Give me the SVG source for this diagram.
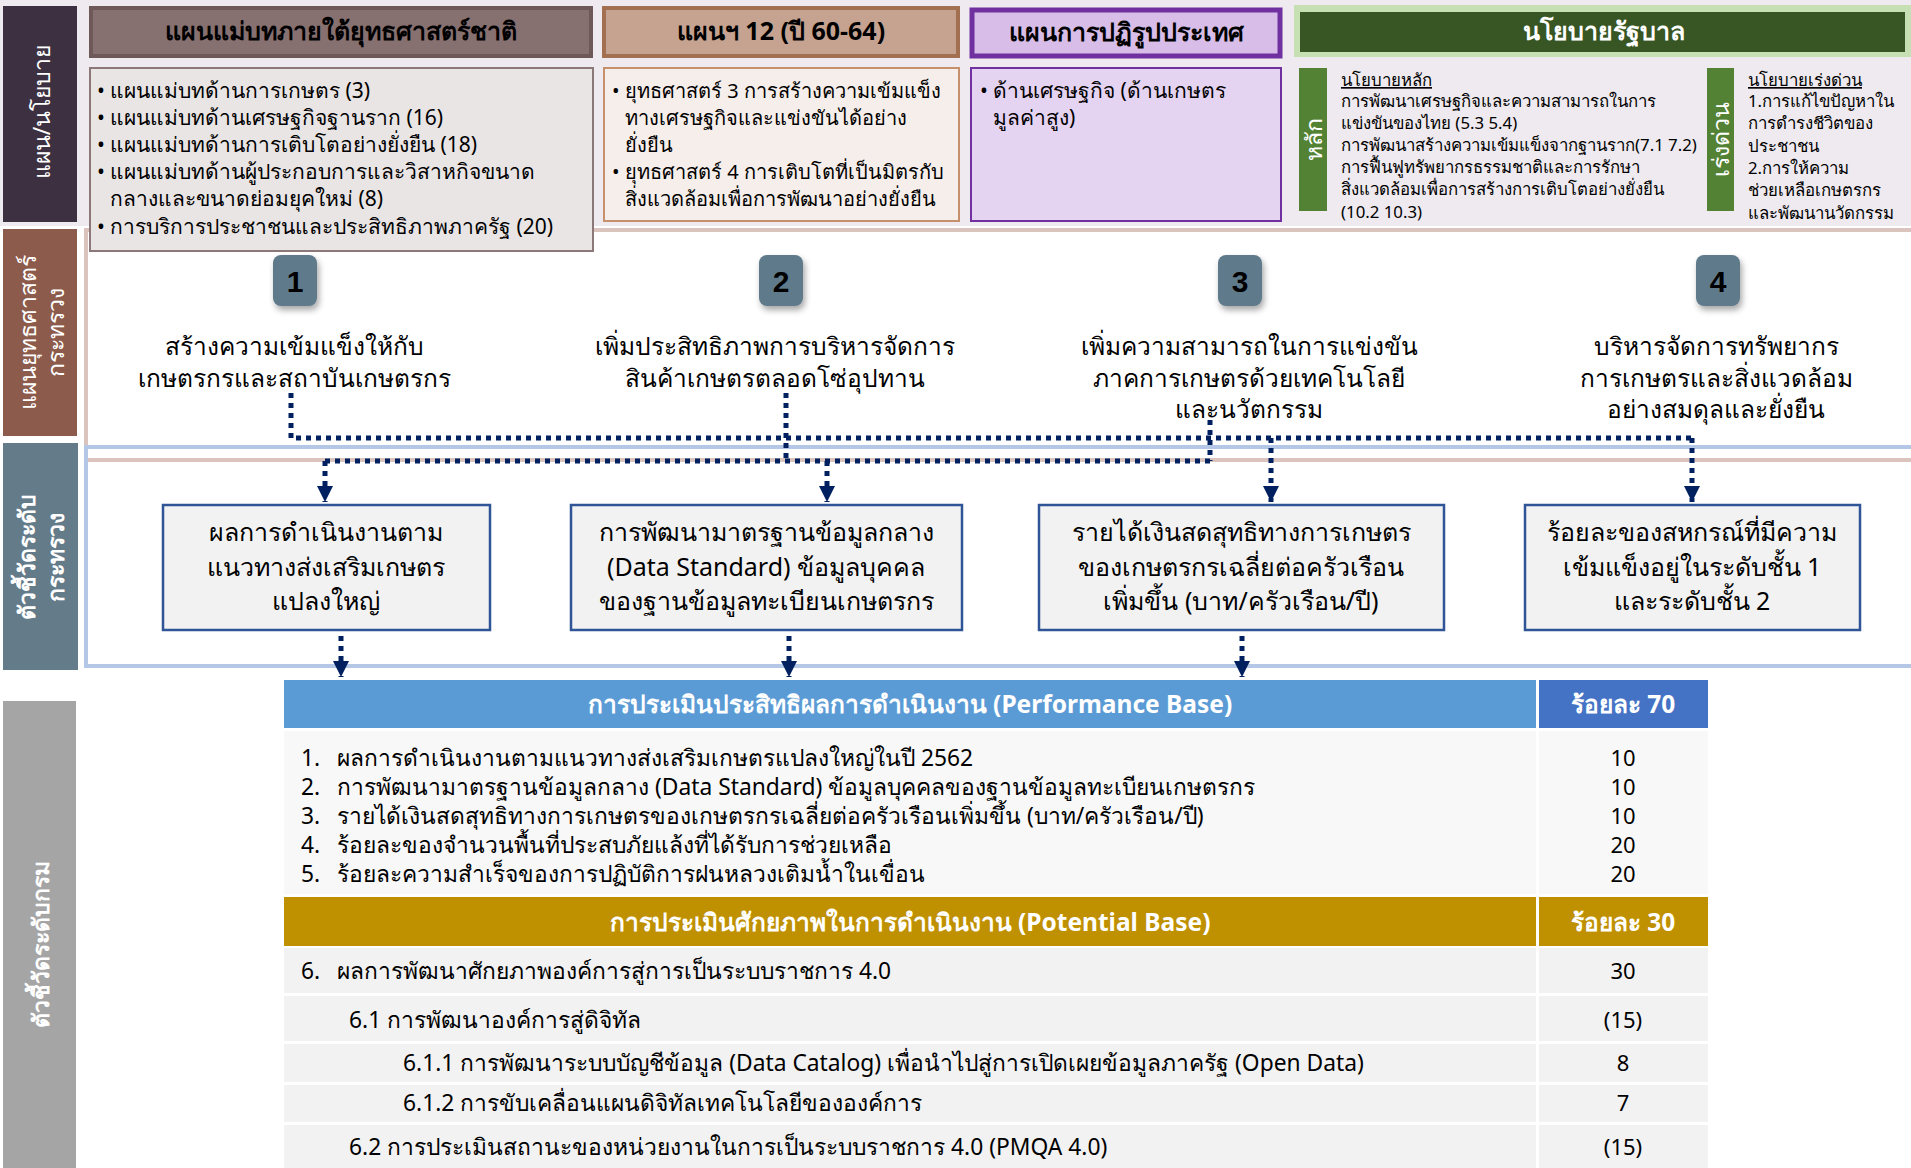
<svg xmlns="http://www.w3.org/2000/svg" width="1911" height="1168" viewBox="0 0 1911 1168">
<style>
text{font-family:"Noto Sans","DejaVu Sans",sans-serif;fill:#000}
.hd{font-size:25px;font-weight:bold;text-anchor:middle}
.bx{font-size:21px}
.bx2{font-size:20px}
.gv{font-size:16.8px}
.st{font-size:24.5px;text-anchor:middle}
.ib{font-size:25px;text-anchor:middle}
.tb{font-size:22.8px}
.tn{font-size:22px;text-anchor:middle}
.th{font-size:24.5px;font-weight:bold;fill:#fff;text-anchor:middle}
.sb{font-size:23px;fill:#fff;text-anchor:middle;dominant-baseline:central}
.bd{font-size:30px;font-weight:bold;text-anchor:middle;font-family:"Liberation Sans",sans-serif}
.dot{fill:none;stroke:#002060;stroke-width:5;stroke-dasharray:5 5}
.ind{fill:#f2f2f2;stroke:#2f5597;stroke-width:2.5}
.badge{fill:#5f7a8a}
</style>
<defs>
<marker id="ah" viewBox="0 0 10 10" refX="10" refY="5" markerWidth="3.2" markerHeight="3.2" orient="auto" markerUnits="strokeWidth">
<path d="M0,0 L10,5 L0,10 z" fill="#002060"/>
</marker>
<filter id="sh" x="-30%" y="-30%" width="160%" height="170%">
<feDropShadow dx="2" dy="4" stdDeviation="3" flood-color="#000" flood-opacity="0.35"/>
</filter>
</defs>

<!-- backgrounds -->
<rect x="0" y="0" width="1911" height="226" fill="#eeeaef"/>
<rect x="86" y="230" width="1840" height="230" fill="none" stroke="#dbc4be" stroke-width="4"/>
<rect x="86" y="447" width="1840" height="219" fill="none" stroke="#b4c7e7" stroke-width="4"/>

<!-- sidebars -->
<g id="side-plan">
<rect x="3" y="6" width="74" height="216" fill="#3d3141"/>
<text class="sb" x="41" y="112" font-size="24" transform="rotate(-90 41 112)">แผน/นโยบาย</text>
</g>
<g id="side-strategy">
<rect x="3" y="229" width="74" height="207" fill="#8c5b4b"/>
<text class="sb" x="27" y="332" transform="rotate(-90 27 332)">แผนยุทธศาสตร์</text>
<text class="sb" x="55" y="332" transform="rotate(-90 55 332)">กระทรวง</text>
</g>
<g id="side-kpi-ministry">
<rect x="3" y="443" width="75" height="227" fill="#647b8a"/>
<text class="sb" x="26" y="557" font-weight="bold" transform="rotate(-90 26 557)">ตัวชี้วัดระดับ</text>
<text class="sb" x="55" y="557" font-weight="bold" transform="rotate(-90 55 557)">กระทรวง</text>
</g>
<g id="side-kpi-dept">
<rect x="3" y="701" width="73" height="467" fill="#a5a5a5"/>
<text class="sb" x="40" y="944" font-weight="bold" transform="rotate(-90 40 944)">ตัวชี้วัดระดับกรม</text>
</g>

<!-- top headers -->
<g id="hdr-masterplan">
<rect x="91" y="8" width="500" height="48" fill="#877070" stroke="#6e5858" stroke-width="4"/>
<text class="hd" x="341" y="40">แผนแม่บทภายใต้ยุทธศาสตร์ชาติ</text>
</g>
<g id="hdr-plan12">
<rect x="604" y="8" width="354" height="48" fill="#c5a390" stroke="#a26f50" stroke-width="4"/>
<text class="hd" x="781" y="40" font-size="26">แผนฯ 12 (ปี 60-64)</text>
</g>
<g id="hdr-reform">
<rect x="972" y="10" width="308" height="46" fill="#d7bde8" stroke="#7030a0" stroke-width="5"/>
<text class="hd" x="1126" y="41">แผนการปฏิรูปประเทศ</text>
</g>
<g id="hdr-gov">
<rect x="1294" y="5" width="617" height="52" fill="#c6e0b4"/>
<rect x="1300" y="12" width="605" height="40" fill="#375623"/>
<text class="hd" x="1604" y="40" style="fill:#fff">นโยบายรัฐบาล</text>
</g>

<!-- content boxes -->
<g id="box-masterplan">
<rect x="90" y="68" width="503" height="183" fill="#e9e5e5" stroke="#8c7878" stroke-width="2"/>
<text class="bx" x="97" y="98">•</text><text class="bx" x="110" y="98">แผนแม่บทด้านการเกษตร (3)</text>
<text class="bx" x="97" y="125">•</text><text class="bx" x="110" y="125">แผนแม่บทด้านเศรษฐกิจฐานราก (16)</text>
<text class="bx" x="97" y="152">•</text><text class="bx" x="110" y="152">แผนแม่บทด้านการเติบโตอย่างยั่งยืน (18)</text>
<text class="bx" x="97" y="179">•</text><text class="bx" x="110" y="179">แผนแม่บทด้านผู้ประกอบการและวิสาหกิจขนาด</text>
<text class="bx" x="110" y="206">กลางและขนาดย่อมยุคใหม่ (8)</text>
<text class="bx" x="97" y="234">•</text><text class="bx" x="110" y="234">การบริการประชาชนและประสิทธิภาพภาครัฐ (20)</text>
</g>
<g id="box-plan12">
<rect x="604" y="68" width="355" height="153" fill="#f6eeea" stroke="#c6906c" stroke-width="2"/>
<text class="bx2" x="612" y="98">•</text><text class="bx2" x="625" y="98">ยุทธศาสตร์ 3 การสร้างความเข้มแข็ง</text>
<text class="bx2" x="625" y="125">ทางเศรษฐกิจและแข่งขันได้อย่าง</text>
<text class="bx2" x="625" y="152">ยั่งยืน</text>
<text class="bx2" x="612" y="179">•</text><text class="bx2" x="625" y="179">ยุทธศาสตร์ 4 การเติบโตที่เป็นมิตรกับ</text>
<text class="bx2" x="625" y="206">สิ่งแวดล้อมเพื่อการพัฒนาอย่างยั่งยืน</text>
</g>
<g id="box-reform">
<rect x="971" y="68" width="310" height="153" fill="#e5d3f2" stroke="#7030a0" stroke-width="2"/>
<text class="bx" x="980" y="98">•</text><text class="bx" x="993" y="98" font-size="22">ด้านเศรษฐกิจ (ด้านเกษตร</text>
<text class="bx" x="993" y="125" font-size="22">มูลค่าสูง)</text>
</g>
<g id="box-gov-main">
<rect x="1299" y="68" width="28" height="143" fill="#548235"/>
<text class="sb" x="1313" y="139" font-size="27" transform="rotate(-90 1313 139)">หลัก</text>
<text class="gv" x="1341" y="86" text-decoration="underline">นโยบายหลัก</text>
<text class="gv" x="1341" y="107">การพัฒนาเศรษฐกิจและความสามารถในการ</text>
<text class="gv" x="1341" y="129">แข่งขันของไทย (5.3 5.4)</text>
<text class="gv" x="1341" y="151" font-size="16.3">การพัฒนาสร้างความเข้มแข็งจากฐานราก(7.1 7.2)</text>
<text class="gv" x="1341" y="173">การฟื้นฟูทรัพยากรธรรมชาติและการรักษา</text>
<text class="gv" x="1341" y="195">สิ่งแวดล้อมเพื่อการสร้างการเติบโตอย่างยั่งยืน</text>
<text class="gv" x="1341" y="218">(10.2 10.3)</text>
</g>
<g id="box-gov-urgent">
<rect x="1707" y="68" width="27" height="143" fill="#548235"/>
<text class="sb" x="1720" y="139" font-size="25" transform="rotate(-90 1720 139)">เร่งด่วน</text>
<text class="gv" x="1748" y="86" text-decoration="underline">นโยบายเร่งด่วน</text>
<text class="gv" x="1748" y="107">1.การแก้ไขปัญหาใน</text>
<text class="gv" x="1748" y="129">การดำรงชีวิตของ</text>
<text class="gv" x="1748" y="152">ประชาชน</text>
<text class="gv" x="1748" y="174">2.การให้ความ</text>
<text class="gv" x="1748" y="196">ช่วยเหลือเกษตรกร</text>
<text class="gv" x="1748" y="219">และพัฒนานวัดกรรม</text>
</g>

<!-- strategies -->
<g id="strategy-1">
<rect class="badge" x="273" y="255" width="44" height="51" rx="8" filter="url(#sh)"/>
<text class="bd" x="295" y="292">1</text>
<text class="st" x="294" y="355">สร้างความเข้มแข็งให้กับ</text>
<text class="st" x="294" y="387">เกษตรกรและสถาบันเกษตรกร</text>
</g>
<g id="strategy-2">
<rect class="badge" x="759" y="255" width="44" height="51" rx="8" filter="url(#sh)"/>
<text class="bd" x="781" y="292">2</text>
<text class="st" x="775" y="355">เพิ่มประสิทธิภาพการบริหารจัดการ</text>
<text class="st" x="775" y="387">สินค้าเกษตรตลอดโซ่อุปทาน</text>
</g>
<g id="strategy-3">
<rect class="badge" x="1218" y="255" width="44" height="51" rx="8" filter="url(#sh)"/>
<text class="bd" x="1240" y="292">3</text>
<text class="st" x="1249" y="355">เพิ่มความสามารถในการแข่งขัน</text>
<text class="st" x="1249" y="387">ภาคการเกษตรด้วยเทคโนโลยี</text>
<text class="st" x="1249" y="418">และนวัตกรรม</text>
</g>
<g id="strategy-4">
<rect class="badge" x="1696" y="255" width="44" height="51" rx="8" filter="url(#sh)"/>
<text class="bd" x="1718" y="292">4</text>
<text class="st" x="1716" y="355">บริหารจัดการทรัพยากร</text>
<text class="st" x="1716" y="387">การเกษตรและสิ่งแวดล้อม</text>
<text class="st" x="1716" y="418">อย่างสมดุลและยั่งยืน</text>
</g>

<!-- ministry indicators -->
<g id="kpi-1">
<rect class="ind" x="163" y="505" width="327" height="125"/>
<text class="ib" x="326" y="541">ผลการดำเนินงานตาม</text>
<text class="ib" x="326" y="576">แนวทางส่งเสริมเกษตร</text>
<text class="ib" x="326" y="610">แปลงใหญ่</text>
</g>
<g id="kpi-2">
<rect class="ind" x="571" y="505" width="391" height="125"/>
<text class="ib" x="766" y="541">การพัฒนามาตรฐานข้อมูลกลาง</text>
<text class="ib" x="766" y="576">(Data Standard) ข้อมูลบุคคล</text>
<text class="ib" x="766" y="610">ของฐานข้อมูลทะเบียนเกษตรกร</text>
</g>
<g id="kpi-3">
<rect class="ind" x="1039" y="505" width="405" height="125"/>
<text class="ib" x="1241" y="541">รายได้เงินสดสุทธิทางการเกษตร</text>
<text class="ib" x="1241" y="576">ของเกษตรกรเฉลี่ยต่อครัวเรือน</text>
<text class="ib" x="1241" y="610">เพิ่มขึ้น (บาท/ครัวเรือน/ปี)</text>
</g>
<g id="kpi-4">
<rect class="ind" x="1525" y="505" width="335" height="125"/>
<text class="ib" x="1692" y="541">ร้อยละของสหกรณ์ที่มีความ</text>
<text class="ib" x="1692" y="576">เข้มแข็งอยู่ในระดับชั้น 1</text>
<text class="ib" x="1692" y="610">และระดับชั้น 2</text>
</g>

<!-- table -->
<g id="table">
<rect x="284" y="680" width="1252" height="48" fill="#5b9bd5"/>
<rect x="1539" y="680" width="169" height="48" fill="#4472c4"/>
<text class="th" x="910" y="713">การประเมินประสิทธิผลการดำเนินงาน (Performance Base)</text>
<text class="th" x="1623" y="713">ร้อยละ 70</text>
<rect x="284" y="731" width="1252" height="163" fill="#f8f8f8"/>
<rect x="1539" y="731" width="169" height="163" fill="#f8f8f8"/>
<text class="tb" x="301" y="766">1.</text><text class="tb" x="337" y="766">ผลการดำเนินงานตามแนวทางส่งเสริมเกษตรแปลงใหญ่ในปี 2562</text>
<text class="tb" x="301" y="795">2.</text><text class="tb" x="337" y="795">การพัฒนามาตรฐานข้อมูลกลาง (Data Standard) ข้อมูลบุคคลของฐานข้อมูลทะเบียนเกษตรกร</text>
<text class="tb" x="301" y="824">3.</text><text class="tb" x="337" y="824">รายได้เงินสดสุทธิทางการเกษตรของเกษตรกรเฉลี่ยต่อครัวเรือนเพิ่มขึ้น (บาท/ครัวเรือน/ปี)</text>
<text class="tb" x="301" y="853">4.</text><text class="tb" x="337" y="853">ร้อยละของจำนวนพื้นที่ประสบภัยแล้งที่ได้รับการช่วยเหลือ</text>
<text class="tb" x="301" y="882">5.</text><text class="tb" x="337" y="882">ร้อยละความสำเร็จของการปฏิบัติการฝนหลวงเติมน้ำในเขื่อน</text>
<text class="tn" x="1623" y="766">10</text>
<text class="tn" x="1623" y="795">10</text>
<text class="tn" x="1623" y="824">10</text>
<text class="tn" x="1623" y="853">20</text>
<text class="tn" x="1623" y="882">20</text>
<rect x="284" y="897" width="1252" height="49" fill="#bf9000"/>
<rect x="1539" y="897" width="169" height="49" fill="#bf9000"/>
<text class="th" x="910" y="931">การประเมินศักยภาพในการดำเนินงาน (Potential Base)</text>
<text class="th" x="1623" y="931">ร้อยละ 30</text>
<rect x="284" y="948" width="1252" height="45" fill="#f2f2f2"/>
<rect x="1539" y="948" width="169" height="45" fill="#f2f2f2"/>
<rect x="284" y="996" width="1252" height="45" fill="#f2f2f2"/>
<rect x="1539" y="996" width="169" height="45" fill="#f2f2f2"/>
<rect x="284" y="1044" width="1252" height="38" fill="#f2f2f2"/>
<rect x="1539" y="1044" width="169" height="38" fill="#f2f2f2"/>
<rect x="284" y="1085" width="1252" height="37" fill="#f2f2f2"/>
<rect x="1539" y="1085" width="169" height="37" fill="#f2f2f2"/>
<rect x="284" y="1125" width="1252" height="43" fill="#f2f2f2"/>
<rect x="1539" y="1125" width="169" height="43" fill="#f2f2f2"/>
<text class="tb" x="301" y="979">6.</text><text class="tb" x="337" y="979">ผลการพัฒนาศักยภาพองค์การสู่การเป็นระบบราชการ 4.0</text>
<text class="tb" x="349" y="1028">6.1 การพัฒนาองค์การสู่ดิจิทัล</text>
<text class="tb" x="403" y="1071">6.1.1 การพัฒนาระบบบัญชีข้อมูล (Data Catalog) เพื่อนำไปสู่การเปิดเผยข้อมูลภาครัฐ (Open Data)</text>
<text class="tb" x="403" y="1111">6.1.2 การขับเคลื่อนแผนดิจิทัลเทคโนโลยีขององค์การ</text>
<text class="tb" x="349" y="1155">6.2 การประเมินสถานะของหน่วยงานในการเป็นระบบราชการ 4.0 (PMQA 4.0)</text>
<text class="tn" x="1623" y="979">30</text>
<text class="tn" x="1623" y="1028">(15)</text>
<text class="tn" x="1623" y="1071">8</text>
<text class="tn" x="1623" y="1111">7</text>
<text class="tn" x="1623" y="1155">(15)</text>
</g>

<!-- connectors -->
<g id="connectors">
<path class="dot" d="M291,393 V438 H1692"/>
<path class="dot" d="M786,393 V461"/>
<path class="dot" d="M1210,420 V461"/>
<path class="dot" d="M325,461 H1210"/>
<path class="dot" d="M325,461 V502" marker-end="url(#ah)"/>
<path class="dot" d="M827,461 V502" marker-end="url(#ah)"/>
<path class="dot" d="M1271,438 V502" marker-end="url(#ah)"/>
<path class="dot" d="M1692,438 V502" marker-end="url(#ah)"/>
<path class="dot" d="M341,636 V677" marker-end="url(#ah)"/>
<path class="dot" d="M789,636 V677" marker-end="url(#ah)"/>
<path class="dot" d="M1242,636 V677" marker-end="url(#ah)"/>
</g>
</svg>
